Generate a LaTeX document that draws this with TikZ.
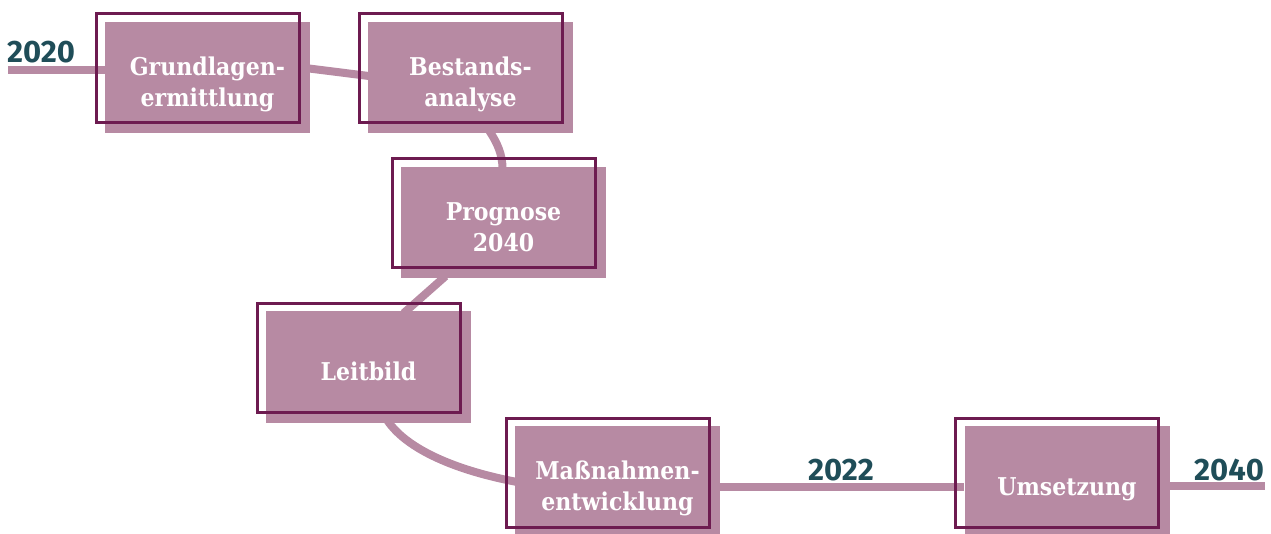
\documentclass[tikz,border=0pt]{standalone}
\usepackage{fontspec}
\setmainfont{DejaVu Serif}[FakeStretch=0.9]
\newfontfamily\jahrfont{Fira Sans}
\usepackage{xcolor}
\usetikzlibrary{positioning,calc}
\definecolor{mauve}{HTML}{B78AA3}
\definecolor{pflaume}{HTML}{6D1B50}
\definecolor{petrol}{HTML}{1F4D58}
\pgfdeclarelayer{hinten}
\pgfsetlayers{hinten,main}

\begin{document}
\begin{tikzpicture}[x=1pt,y=-1pt]
% Styles (MODIFIABLES)
\tikzstyle{kasten}=[fill=mauve,minimum width=205pt,minimum height=111pt,inner sep=0pt]
\tikzstyle{rahmen}=[draw=pflaume,line width=3pt,minimum width=203pt,minimum height=109pt,inner sep=0pt]
\tikzstyle{schrift}=[text=white,font=\bfseries\fontsize{24.5}{31}\selectfont,align=center,inner sep=0pt]
\tikzstyle{jahr}=[text=petrol,font=\jahrfont\bfseries\fontsize{31}{31}\selectfont,inner sep=0pt]
\tikzstyle{weg}=[draw=mauve,line width=8pt]
% Dimensions (MODIFIABLES)
\def\VersatzX{-10pt}
\def\VersatzY{9pt}
\useasboundingbox (0,0) rectangle (1271,534);
% Kaesten
\node[kasten] (grund) at (207.5,77.5) {};
\node[kasten] (bestand) at (470.5,77.5) {};
\node[kasten] (prognose) at (503.5,222.5) {};
\node[kasten] (leitbild) at (368.5,367) {};
\node[kasten] (massnahmen) at (617.5,481.5) {};
\node[kasten] (umsetzung) at (1067,481.5) {};
% Rahmen
\node[rahmen] (grundR) at ([xshift=\VersatzX,yshift=\VersatzY]grund.center) {};
\node[rahmen] (bestandR) at ([xshift=\VersatzX,yshift=\VersatzY]bestand.center) {};
\node[rahmen] (prognoseR) at ([xshift=\VersatzX,yshift=\VersatzY]prognose.center) {};
\node[rahmen] (leitbildR) at ([xshift=\VersatzX,yshift=\VersatzY]leitbild.center) {};
\node[rahmen] (massnahmenR) at ([xshift=\VersatzX,yshift=\VersatzY]massnahmen.center) {};
\node[rahmen] (umsetzungR) at ([xshift=\VersatzX,yshift=\VersatzY]umsetzung.center) {};
% Texte
\node[schrift] (grundT) at ([yshift=-7pt]grund.center) {Grundlagen-\\ermittlung};
\node[schrift] (bestandT) at ([yshift=-7pt]bestand.center) {Bestands-\\analyse};
\node[schrift] (prognoseT) at ([yshift=-5pt]prognose.center) {Prognose\\2040};
\node[schrift] (leitbildT) at ([yshift=-4pt]leitbild.center) {Leitbild};
\node[schrift] (massnahmenT) at ([yshift=-7pt]massnahmen.center) {Maßnahmen-\\entwicklung};
\node[schrift] (umsetzungT) at ([yshift=-8pt]umsetzung.center) {Umsetzung};
% Jahre
\node[jahr] (j2020) at (41,52) {2020};
\node[jahr] (j2022) at (841,470) {2022};
\node[jahr] (j2040) at (1229,470) {2040};
\coordinate (anfang) at (8,70);
\coordinate (ende) at (1265,486);
% Wege
\begin{pgfonlayer}{hinten}
\draw[weg] (anfang) -- (anfang -| grund.center);
\draw[weg] ([xshift=-5pt,yshift=9.5pt]grund.east) -- ([xshift=5pt,yshift=1pt]bestand.west);
\draw[weg] ([xshift=19pt,yshift=2pt]bestand.south) .. controls +(8,12) and +(0,-14) .. ([xshift=-1pt,yshift=-2pt]prognose.north);
\draw[weg] ([xshift=-58pt,yshift=2pt]prognose.south) -- ([xshift=35pt,yshift=-2pt]leitbild.north);
\draw[weg] ([xshift=19pt,yshift=2pt]leitbild.south) .. controls +(22,32) and +(-55,-10) .. ([xshift=5pt,yshift=-1pt]massnahmen.west);
\draw[weg] ([yshift=-5.5pt]massnahmen.east) -- ([yshift=-5.5pt]umsetzung.west);
\draw[weg] ([yshift=-4.5pt]umsetzung.east) -- (ende);
\end{pgfonlayer}
\end{tikzpicture}
\end{document}
